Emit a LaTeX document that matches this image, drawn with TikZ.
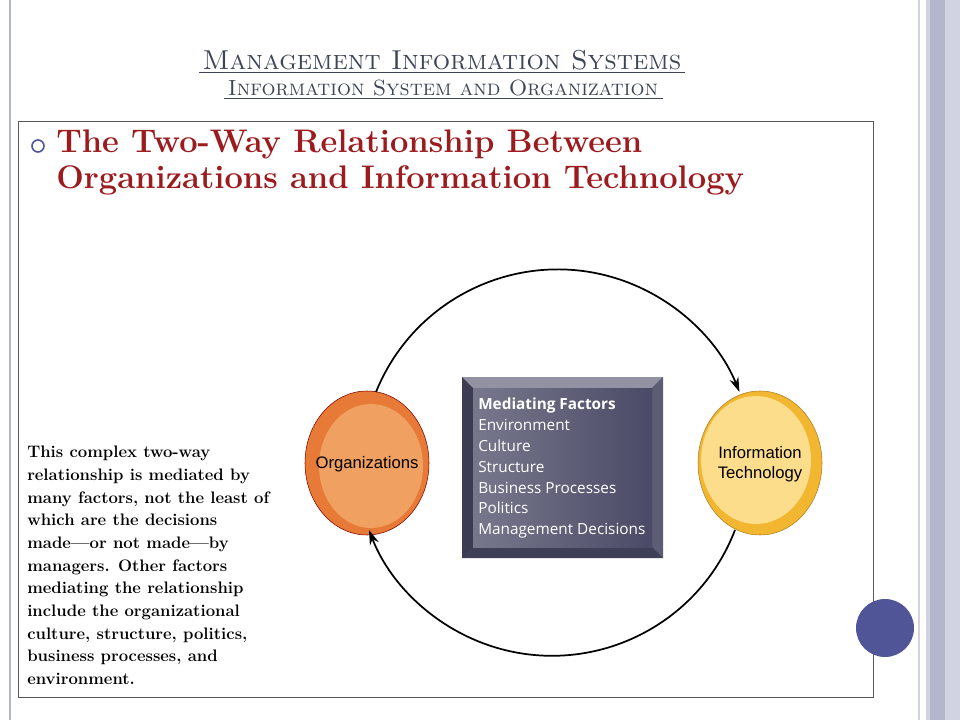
\documentclass[tikz,border=0pt]{standalone}
\usepackage{fontspec}
\setsansfont{Liberation Sans}
\newfontfamily\boxfont{Open Sans}
\usetikzlibrary{arrows.meta,shapes.geometric,calc}
\definecolor{titlec}{HTML}{3E4556}
\definecolor{redc}{HTML}{9B1B1E}
\definecolor{orgc}{HTML}{E67A36}
\definecolor{orgin}{HTML}{F0A060}
\definecolor{itc}{HTML}{F2B630}
\definecolor{itin}{HTML}{FBDD8C}
\definecolor{boxc}{HTML}{4A4A66}
\definecolor{bluec}{HTML}{4F5597}
\definecolor{barc}{HTML}{B4B6CE}
\tikzset{
  conn/.style={line width=1.3pt,-{Stealth[length=11pt,width=7pt]}},
  lbl/.style={font=\sffamily\fontsize{12.5}{15}\selectfont,align=center}
}
\begin{document}
\begin{tikzpicture}[x=0.75pt,y=-0.75pt]
\useasboundingbox (0,0) rectangle (960,720);
\fill[white] (0,0) rectangle (960,720);
% slide frame
\draw[barc,line width=1.5pt] (10,0) -- (10,720);
\fill[barc!60] (918,0) rectangle (960,720);
\fill[barc] (930,0) rectangle (945,720);
\fill[white] (920,0) rectangle (926,720);
% titles
\node[font=\fontsize{20.5}{22}\selectfont\scshape,text=titlec] (t1) at (442,60) {Management Information Systems};
\draw[titlec,line width=0.6pt] (199,72) -- (685,72);
\node[font=\fontsize{16.5}{18}\selectfont\scshape,text=titlec] (t2) at (443,88) {Information System and Organization};
\draw[titlec,line width=0.5pt] (224,98) -- (663,98);
% content frame
\draw[gray!70!black,line width=0.6pt] (18,121) rectangle (873,697);
\node[circle,draw=bluec,line width=1.2pt,minimum size=9pt,inner sep=0] (bul) at (38,146) {};
\node[anchor=north west,align=left,text=redc,font=\bfseries\fontsize{24.5}{27}\selectfont,inner sep=0] (head) at (56,130) {The Two-Way Relationship Between\\Organizations and Information Technology};
% circles
\node[ellipse,draw=red!50!black,fill=orgc,minimum width=93pt,minimum height=108pt,inner sep=0] (org) at (367,463) {};
\fill[orgin] (371,466) ellipse [x radius=52,y radius=62];
\node[lbl] (orgl) at (367,464) {Organizations};
\node[ellipse,draw=itc!70!black,fill=itc,minimum width=93pt,minimum height=108pt,inner sep=0] (it) at (760,463) {};
\fill[itin] (756,460) ellipse [x radius=55,y radius=64];
\node[lbl] (itl) at (760,464) {Information\\Technology};
% arcs
\coordinate (a1) at (376,392);
\coordinate (a2) at (735,530);
\draw[conn] (a1) arc[start angle=-158,end angle=-22,radius=196];
% box
\fill[boxc!80!black] (462,377) rectangle (663,558);
\fill[boxc!60!white] (462,377) -- (663,377) -- (652,388) -- (473,388) -- cycle;
\fill[boxc!85!black] (462,558) -- (663,558) -- (652,547) -- (473,547) -- cycle;
\fill[boxc!90!white] (663,377) -- (663,558) -- (652,547) -- (652,388) -- cycle;
\shade[left color=boxc!75!white,right color=boxc] (473,388) rectangle (652,547);
\node[anchor=north west,align=left,text=white,font=\boxfont\fontsize{11.5}{15.6}\selectfont,inner sep=0] (med) at (478,398)
{\textbf{Mediating Factors}\\Environment\\Culture\\Structure\\Business Processes\\Politics\\Management Decisions};
\draw[conn] (a2) arc[start angle=21,end angle=159,radius=196];
% left text
\node[anchor=north west,align=left,font=\bfseries\fontsize{12.5}{17}\selectfont,inner sep=0] (txt) at (27,446)
{This complex two-way\\relationship is mediated by\\many factors, not the least of\\which are the decisions\\made---or not made---by\\managers. Other factors\\mediating the relationship\\include the organizational\\culture, structure, politics,\\business processes, and\\environment.};
\fill[bluec] (885,628) circle (29);
\end{tikzpicture}
\end{document}
